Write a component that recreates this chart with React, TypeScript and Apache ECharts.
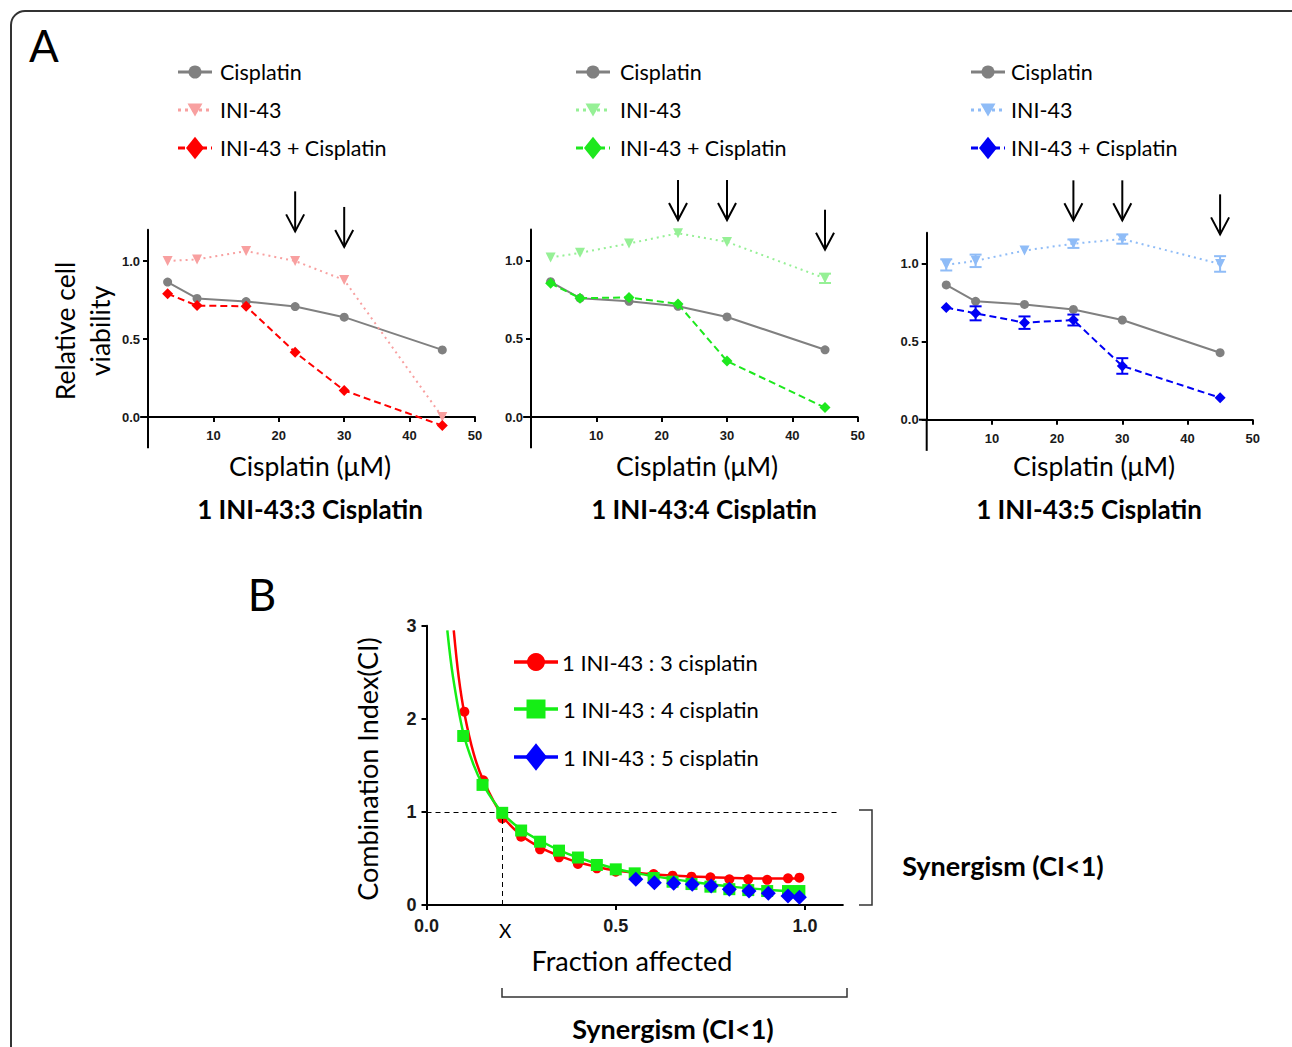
import React, { useEffect, useRef } from "react";
import * as echarts from "echarts";

// ---------- Panel A data ----------
const doseX = [3, 7.5, 15, 22.5, 30, 45];
const cisplatinVals = [0.865, 0.76, 0.74, 0.708, 0.64, 0.43];

const ini43R3 = [1.0, 1.01, 1.064, 1.0, 0.878, 0.0];
const comboR3 = [0.79, 0.714, 0.71, 0.415, 0.17, -0.055];

const ini43R4 = [1.02, 1.05, 1.11, 1.175, 1.12, 0.887];
const ini43R4Err = [0, 0, 0, 0, 0, 0.03];
const comboR4 = [0.855, 0.76, 0.765, 0.723, 0.358, 0.06];

const ini43R5 = [0.994, 1.02, 1.086, 1.13, 1.16, 1.0];
const ini43R5Err = [0.036, 0.04, 0, 0.027, 0.03, 0.05];
const comboR5 = [0.72, 0.683, 0.623, 0.64, 0.345, 0.141];
const comboR5Err = [0, 0.045, 0.04, 0.035, 0.05, 0];

const aYLabels = [0, 0.5, 1.0];
const aXLabels = [10, 20, 30, 40, 50];
const aYExtendTo = -0.2; // y axis line continues below the x axis
const aXExtendFrom = -1.2; // x axis line starts slightly left of the y axis
const panelTitles = ["1 INI-43:3 Cisplatin", "1 INI-43:4 Cisplatin", "1 INI-43:5 Cisplatin"];
const legendNamesA = ["Cisplatin", "INI-43", "INI-43 + Cisplatin"];

// arrows: [panel, dose, tip value]
const arrowTips: [number, number, number][] = [
  [0, 22.5, 1.19], [0, 30, 1.09],
  [1, 22.5, 1.26], [1, 30, 1.26], [1, 45, 1.07],
  [2, 22.5, 1.28], [2, 30, 1.28], [2, 45, 1.19],
];

// ---------- Panel B data ----------
const faRed = [0.1, 0.15, 0.2, 0.25, 0.3, 0.35, 0.4, 0.45, 0.5, 0.55, 0.6, 0.65, 0.7, 0.75, 0.8, 0.85, 0.9, 0.955, 0.985];
const ciRed = [2.077, 1.34, 0.93, 0.734, 0.598, 0.512, 0.44, 0.394, 0.358, 0.325, 0.333, 0.315, 0.304, 0.297, 0.276, 0.276, 0.27, 0.286, 0.294];
const faGreen = [0.097, 0.148, 0.2, 0.25, 0.3, 0.35, 0.4, 0.45, 0.5, 0.55, 0.6, 0.65, 0.7, 0.75, 0.8, 0.85, 0.9, 0.955, 0.985];
const ciGreen = [1.815, 1.29, 0.99, 0.8, 0.68, 0.584, 0.51, 0.43, 0.383, 0.34, 0.29, 0.25, 0.225, 0.197, 0.17, 0.16, 0.15, 0.15, 0.15];
const faBlue = [0.553, 0.602, 0.653, 0.702, 0.752, 0.8, 0.852, 0.903, 0.955, 0.985];
const ciBlue = [0.276, 0.24, 0.233, 0.222, 0.204, 0.168, 0.15, 0.125, 0.097, 0.082];

const faRedCurve = [0.072, 0.085, 0.1, 0.125, 0.15, 0.2, 0.25, 0.3, 0.35, 0.4, 0.5, 0.6, 0.7, 0.8, 0.9, 0.985];
const ciRedCurve = [2.95, 2.45, 2.06, 1.62, 1.34, 0.96, 0.75, 0.62, 0.53, 0.46, 0.37, 0.33, 0.305, 0.292, 0.285, 0.285];
const faGreenCurve = [0.055, 0.07, 0.097, 0.125, 0.148, 0.2, 0.25, 0.3, 0.35, 0.4, 0.45, 0.5, 0.55, 0.6, 0.7, 0.8, 0.9, 0.99];
const ciGreenCurve = [2.95, 2.45, 1.85, 1.5, 1.3, 0.99, 0.81, 0.69, 0.59, 0.51, 0.445, 0.39, 0.345, 0.31, 0.25, 0.2, 0.165, 0.14];

const bLegend = ["1 INI-43 : 3 cisplatin", "1 INI-43 : 4 cisplatin", "1 INI-43 : 5 cisplatin"];
const bXLabels = [0, 0.5, 1.0];
const ciThreshold = 1;
const faAtThreshold = 0.2;
const faLineEnd = 1.085;

// ---------- styling ----------
const GRAY = "#808080";
const panelColors = [
  { light: "#f8a0a0", dark: "#ff0000" },
  { light: "#96f096", dark: "#1ee81e" },
  { light: "#8fbcf7", dark: "#0000f5" },
];
const B_RED = "#ff0000";
const B_GREEN = "#15ee15";
const B_BLUE = "#0000ff";
const TXT = "Lato, 'Open Sans', sans-serif";
const NUM = "'Liberation Sans', Arial, sans-serif";

const gridsA = [
  { left: 148, top: 229.8, width: 327, height: 187.2 },
  { left: 531, top: 229.4, width: 326.7, height: 187.6 },
  { left: 926.7, top: 232.8, width: 326, height: 186.9 },
];
const gridB = { left: 426.5, top: 625.7, width: 416.4, height: 279.3 };

const zip = (xs: number[], ys: number[]) => xs.map((x, i) => [x, ys[i]]);
const zip3 = (xs: number[], ys: number[], es: number[]) => xs.map((x, i) => [x, ys[i], es[i]]);

function errorSeries(idx: number, data: number[][], color: string) {
  return {
    type: "custom",
    xAxisIndex: idx,
    yAxisIndex: idx,
    data,
    silent: true,
    clip: false,
    z: 4,
    renderItem: (_p: any, api: any) => {
      const x = api.value(0), y = api.value(1), e = api.value(2);
      if (!e) return { type: "group", children: [] };
      const t = api.coord([x, y + e]);
      const b = api.coord([x, y - e]);
      const w = 6;
      const st = { stroke: color, lineWidth: 2 };
      return {
        type: "group",
        children: [
          { type: "line", shape: { x1: t[0], y1: t[1], x2: b[0], y2: b[1] }, style: st },
          { type: "line", shape: { x1: t[0] - w, y1: t[1], x2: t[0] + w, y2: t[1] }, style: st },
          { type: "line", shape: { x1: b[0] - w, y1: b[1], x2: b[0] + w, y2: b[1] }, style: st },
        ],
      };
    },
  };
}

function buildOption() {
  const grid: any[] = gridsA.map((g) => ({ ...g, containLabel: false, outerBoundsMode: "none" }));
  grid.push({ ...gridB, containLabel: false, outerBoundsMode: "none" });

  const axisLine = { lineStyle: { color: "#000", width: 2 } };
  const xAxis: any[] = [0, 1, 2].map((i) => ({
    gridIndex: i,
    type: "value",
    min: 0,
    max: 50,
    interval: 10,
    axisLine: { ...axisLine, onZero: false },
    axisTick: { show: true, length: 5, customValues: aXLabels, lineStyle: { color: "#000", width: 2 } },
    axisLabel: { customValues: aXLabels, fontWeight: "bold", fontSize: 13, color: "#1a1a1a", fontFamily: NUM, margin: 12 },
    splitLine: { show: false },
  }));
  const yAxis: any[] = [0, 1, 2].map((i) => ({
    gridIndex: i,
    type: "value",
    min: 0,
    max: 1.2,
    axisLine: { show: true, ...axisLine },
    axisTick: { show: true, length: 5, customValues: aYLabels, lineStyle: { color: "#000", width: 2 } },
    axisLabel: {
      customValues: aYLabels,
      formatter: (v: number) => v.toFixed(1),
      fontWeight: "bold",
      fontSize: 13,
      color: "#1a1a1a",
      fontFamily: NUM,
      margin: 8,
    },
    splitLine: { show: false },
  }));
  xAxis.push({
    gridIndex: 3,
    type: "value",
    min: 0,
    max: 1.1,
    axisLine: { ...axisLine, onZero: false },
    axisTick: { show: true, length: 5, customValues: bXLabels, lineStyle: { color: "#000", width: 2 } },
    axisLabel: {
      customValues: bXLabels,
      formatter: (v: number) => v.toFixed(1),
      fontWeight: "bold",
      fontSize: 18,
      color: "#1a1a1a",
      fontFamily: NUM,
      margin: 12,
    },
    splitLine: { show: false },
  });
  yAxis.push({
    gridIndex: 3,
    type: "value",
    min: 0,
    max: 3,
    interval: 1,
    axisLine: { show: true, ...axisLine },
    axisTick: { show: true, length: 5, lineStyle: { color: "#000", width: 2 } },
    axisLabel: { fontWeight: "bold", fontSize: 18, color: "#1a1a1a", fontFamily: NUM, margin: 10 },
    splitLine: { show: false },
  });

  const ini = [ini43R3, ini43R4, ini43R5];
  const combo = [comboR3, comboR4, comboR5];
  const series: any[] = [];
  [0, 1, 2].forEach((i) => {
    const c = panelColors[i];
    series.push({
      name: "Cisplatin",
      type: "line",
      xAxisIndex: i,
      yAxisIndex: i,
      data: zip(doseX, cisplatinVals),
      symbol: "circle",
      symbolSize: 9,
      clip: false,
      itemStyle: { color: GRAY },
      lineStyle: { color: GRAY, width: 2 },
      z: 2,
    });
    series.push({
      name: "INI-43",
      type: "line",
      xAxisIndex: i,
      yAxisIndex: i,
      data: zip(doseX, ini[i]),
      symbol: "triangle",
      symbolRotate: 180,
      symbolSize: 10,
      clip: false,
      itemStyle: { color: c.light },
      lineStyle: { color: c.light, width: 2, type: [2, 4] },
      z: 2,
    });
    series.push({
      name: "INI-43 + Cisplatin",
      type: "line",
      xAxisIndex: i,
      yAxisIndex: i,
      data: zip(doseX, combo[i]),
      symbol: "diamond",
      symbolSize: 11,
      clip: false,
      itemStyle: { color: c.dark },
      lineStyle: { color: c.dark, width: 2, type: [7, 4] },
      z: 3,
    });
  });
  series.push(errorSeries(1, zip3(doseX, ini43R4, ini43R4Err), panelColors[1].light));
  series.push(errorSeries(2, zip3(doseX, ini43R5, ini43R5Err), panelColors[2].light));
  series.push(errorSeries(2, zip3(doseX, comboR5, comboR5Err), panelColors[2].dark));

  // Panel B
  series.push({
    name: "red curve",
    type: "line",
    xAxisIndex: 3,
    yAxisIndex: 3,
    data: zip(faRedCurve, ciRedCurve),
    smooth: 0.35,
    showSymbol: false,
    symbol: "none",
    lineStyle: { color: B_RED, width: 2.5 },
    z: 2,
    markLine: {
      silent: true,
      symbol: "none",
      label: { show: false },
      lineStyle: { type: [5, 4], color: "#000", width: 1 },
      data: [
        [{ coord: [0, ciThreshold] }, { coord: [faLineEnd, ciThreshold] }],
        [{ coord: [faAtThreshold, 0] }, { coord: [faAtThreshold, ciThreshold] }],
      ],
    },
  });
  series.push({
    name: bLegend[0],
    type: "scatter",
    xAxisIndex: 3,
    yAxisIndex: 3,
    data: zip(faRed, ciRed),
    symbol: "circle",
    symbolSize: 10,
    itemStyle: { color: B_RED, opacity: 1 },
    z: 3,
  });
  series.push({
    name: "green curve",
    type: "line",
    xAxisIndex: 3,
    yAxisIndex: 3,
    data: zip(faGreenCurve, ciGreenCurve),
    smooth: 0.35,
    showSymbol: false,
    symbol: "none",
    lineStyle: { color: B_GREEN, width: 2.5 },
    z: 4,
  });
  series.push({
    name: bLegend[1],
    type: "scatter",
    xAxisIndex: 3,
    yAxisIndex: 3,
    data: zip(faGreen, ciGreen),
    symbol: "rect",
    symbolSize: 12,
    itemStyle: { color: B_GREEN, opacity: 1 },
    z: 5,
  });
  series.push({
    name: bLegend[2],
    type: "scatter",
    xAxisIndex: 3,
    yAxisIndex: 3,
    data: zip(faBlue, ciBlue),
    symbol: "diamond",
    symbolSize: 15,
    itemStyle: { color: B_BLUE, opacity: 1 },
    z: 6,
  });

  return {
    animation: false,
    backgroundColor: "#ffffff",
    grid,
    xAxis,
    yAxis,
    series,
  };
}

// ---------- graphic helpers ----------
function symbolEl(kind: string, cx: number, cy: number, color: string, s: number): any {
  if (kind === "circle") return { type: "circle", shape: { cx, cy, r: s / 2 }, style: { fill: color } };
  if (kind === "tri")
    return { type: "polygon", shape: { points: [[cx - s / 2, cy - s / 2.3], [cx + s / 2, cy - s / 2.3], [cx, cy + s / 2.3]] }, style: { fill: color } };
  if (kind === "diamond")
    return { type: "polygon", shape: { points: [[cx, cy - s * 0.62], [cx + s / 2, cy], [cx, cy + s * 0.62], [cx - s / 2, cy]] }, style: { fill: color } };
  return { type: "rect", shape: { x: cx - s / 2, y: cy - s / 2, width: s, height: s }, style: { fill: color } };
}

function legendRow(x: number, y: number, len: number, gap: number, color: string, dash: any, kind: string, s: number, text: string, fontSize: number, lw: number): any[] {
  return [
    { type: "line", shape: { x1: x, y1: y, x2: x + len, y2: y }, style: { stroke: color, lineWidth: lw, lineDash: dash } },
    symbolEl(kind, x + len / 2, y, color, s),
    {
      type: "text",
      x: x + len + gap,
      y,
      style: { text, fill: "#000", fontSize, fontFamily: TXT, align: "left", verticalAlign: "middle" },
    },
  ];
}

function textEl(text: string, x: number, y: number, fontSize: number, bold = false, rotation = 0, lineHeight?: number): any {
  return {
    type: "text",
    x,
    y,
    rotation,
    style: {
      text,
      fill: "#000",
      fontSize,
      fontFamily: TXT,
      fontWeight: bold ? "bold" : "normal",
      align: "center",
      verticalAlign: "middle",
      lineHeight,
    },
  };
}

function staticGraphics(): any[] {
  const g: any[] = [];
  g.push({
    type: "rect",
    shape: { x: 11, y: 11, width: 1300, height: 1060, r: 14 },
    style: { fill: "none", stroke: "#333", lineWidth: 2 },
    z: -1,
  });
  g.push(textEl("A", 44, 45, 44));
  g.push(textEl("B", 262, 594, 44));

  const legX = [[178, 8], [576, 10], [971, 6]];
  const rowsY = [72, 110, 148];
  [0, 1, 2].forEach((i) => {
    const [lx, gap] = legX[i];
    const c = panelColors[i];
    g.push(...legendRow(lx, rowsY[0], 34, gap, GRAY, null, "circle", 13, legendNamesA[0], 21.5, 3));
    g.push(...legendRow(lx, rowsY[1], 34, gap, c.light, [3, 4], "tri", 15, legendNamesA[1], 21.5, 3));
    g.push(...legendRow(lx, rowsY[2], 34, gap, c.dark, [7, 4], "diamond", 18, legendNamesA[2], 21.5, 3));
  });

  const axisCenters = [310, 697, 1094];
  const titleCenters = [310, 704, 1089];
  [0, 1, 2].forEach((i) => {
    g.push(textEl("Cisplatin (μM)", axisCenters[i], 466, 26.5));
    g.push(textEl(panelTitles[i], titleCenters[i], 509, 26, true));
  });
  g.push(textEl("Relative cell\nviability", 82, 331, 26.5, false, Math.PI / 2, 35));

  // Panel B texts
  g.push(textEl("Combination Index(CI)", 367, 769, 27, false, Math.PI / 2));
  g.push(textEl("Fraction affected", 632, 960, 27));
  g.push(textEl("Synergism (CI<1)", 1003, 865, 27, true));
  g.push(textEl("Synergism (CI<1)", 673, 1028, 27, true));

  const bRows = [662, 709, 757];
  g.push(...legendRow(514, bRows[0], 44, 4, B_RED, null, "circle", 18, bLegend[0], 22, 3.5));
  g.push(...legendRow(514, bRows[1], 44, 5, B_GREEN, null, "square", 19, bLegend[1], 22, 3.5));
  g.push(...legendRow(514, bRows[2], 44, 5, B_BLUE, null, "diamond", 22, bLegend[2], 22, 3.5));

  // brackets
  g.push({
    type: "polyline",
    shape: { points: [[859, 810], [872, 810], [872, 905], [859, 905]] },
    style: { stroke: "#333", lineWidth: 1.5, fill: "none" },
  });
  g.push({
    type: "polyline",
    shape: { points: [[502, 988], [502, 997], [847, 997], [847, 988]] },
    style: { stroke: "#333", lineWidth: 1.5, fill: "none" },
  });
  return g;
}

export default function App() {
  const ref = useRef<HTMLDivElement>(null);
  useEffect(() => {
    if (!ref.current) return;
    const chart = echarts.init(ref.current, null, { renderer: "svg" });
    chart.setOption(buildOption());
    const g = staticGraphics();
    const axSt = { stroke: "#000", lineWidth: 2 };
    [0, 1, 2].forEach((gi) => {
      const o = chart.convertToPixel({ gridIndex: gi } as any, [0, 0]) as number[];
      const yb = chart.convertToPixel({ gridIndex: gi } as any, [0, aYExtendTo]) as number[];
      const xl = chart.convertToPixel({ gridIndex: gi } as any, [aXExtendFrom, 0]) as number[];
      g.push({ type: "line", shape: { x1: o[0], y1: o[1], x2: yb[0], y2: yb[1] }, style: axSt });
      g.push({ type: "line", shape: { x1: xl[0], y1: xl[1], x2: o[0], y2: o[1] }, style: axSt });
    });
    arrowTips.forEach(([gi, x, y]) => {
      const p = chart.convertToPixel({ gridIndex: gi } as any, [x, y]) as number[];
      const st = { stroke: "#000", lineWidth: 2, fill: "none" };
      g.push({ type: "line", shape: { x1: p[0], y1: p[1] - 40, x2: p[0], y2: p[1] }, style: st });
      g.push({ type: "polyline", shape: { points: [[p[0] - 9, p[1] - 17], [p[0], p[1]], [p[0] + 9, p[1] - 17]] }, style: st });
    });
    const xp = chart.convertToPixel({ gridIndex: 3 } as any, [faAtThreshold, 0]) as number[];
    g.push({
      type: "text",
      x: xp[0] + 3,
      y: xp[1] + 25,
      style: { text: "X", fill: "#000", fontSize: 19, fontFamily: TXT, align: "center", verticalAlign: "middle" },
    });
    chart.setOption({ graphic: g.map((e) => ({ silent: true, ...e })) });
    return () => chart.dispose();
  }, []);
  return <div ref={ref} style={{ position: "absolute", left: 0, top: 0, width: 1292, height: 1047 }} />;
}
